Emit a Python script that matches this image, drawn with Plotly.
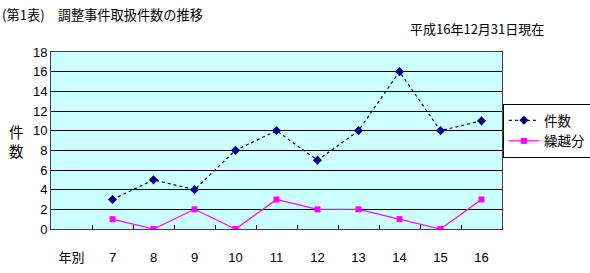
import plotly.graph_objects as go

categories = ["年別", "7", "8", "9", "10", "11", "12", "13", "14", "15", "16"]
years = ["7", "8", "9", "10", "11", "12", "13", "14", "15", "16"]
kensu = [3, 5, 4, 8, 10, 7, 10, 16, 10, 11]
kurikoshi = [1, 0, 2, 0, 3, 2, 2, 1, 0, 3]
yticks = [0, 2, 4, 6, 8, 10, 12, 14, 16, 18]

FONT = "Liberation Sans, Arial, Noto Sans CJK JP, sans-serif"
CJK = "Noto Sans CJK JP, sans-serif"

fig = go.Figure()
fig.add_trace(go.Scatter(
    x=years, y=kensu, name="件数", mode="lines+markers",
    line=dict(color="#000080", width=1.2, dash="dot"),
    marker=dict(symbol="diamond", size=7, color="#000080"),
))
fig.add_trace(go.Scatter(
    x=years, y=kurikoshi, name="繰越分", mode="lines+markers",
    line=dict(color="#FF00FF", width=1.2),
    marker=dict(symbol="square", size=6, color="#FF00FF"),
))

fig.update_layout(
    width=590, height=273,
    margin=dict(l=51, r=88, t=52, b=44, autoexpand=False),
    paper_bgcolor="white",
    plot_bgcolor="#CCFFFF",
    font=dict(family=FONT, size=12, color="black"),
    showlegend=True,
    legend=dict(
        x=1.002, y=0.706, xanchor="left", yanchor="top",
        bordercolor="black", borderwidth=1, bgcolor="white",
        font=dict(family=CJK, size=13.5), tracegroupgap=0,
        itemwidth=30,
    ),
    xaxis=dict(
        type="category", categoryorder="array", categoryarray=categories,
        range=[-0.5, 10.5], showgrid=False, zeroline=False,
        tickmode="array", tickvals=categories, ticktext=categories,
        ticks="inside", tickson="boundaries", ticklen=4, tickcolor="black",
        showline=True, linecolor="#404040", linewidth=1, mirror=True,
        tickfont=dict(family=FONT, size=13), ticklabelstandoff=16,
    ),
    yaxis=dict(
        range=[0, 18], tickvals=yticks, showgrid=True, gridcolor="black",
        gridwidth=1, zeroline=False, showline=True, linecolor="#404040",
        linewidth=1, mirror=True, ticks="", tickfont=dict(family=FONT, size=13),
    ),
    annotations=[
        dict(text="件<br>数", xref="paper", yref="paper", x=-0.077, y=0.5,
             xanchor="center", yanchor="middle", showarrow=False,
             font=dict(family=CJK, size=14.5)),
        dict(text="平成16年12月31日現在", xref="paper", yref="paper", x=0.792, y=1.13,
             xanchor="left", yanchor="middle", showarrow=False,
             font=dict(family=CJK, size=13)),
        dict(text="(第1表)　調整事件取扱件数の推移", xref="paper", yref="paper",
             x=-0.113, y=1.21, xanchor="left", yanchor="middle", showarrow=False,
             font=dict(family=CJK, size=13.2)),
    ],
)

fig.write_html("out.html")
